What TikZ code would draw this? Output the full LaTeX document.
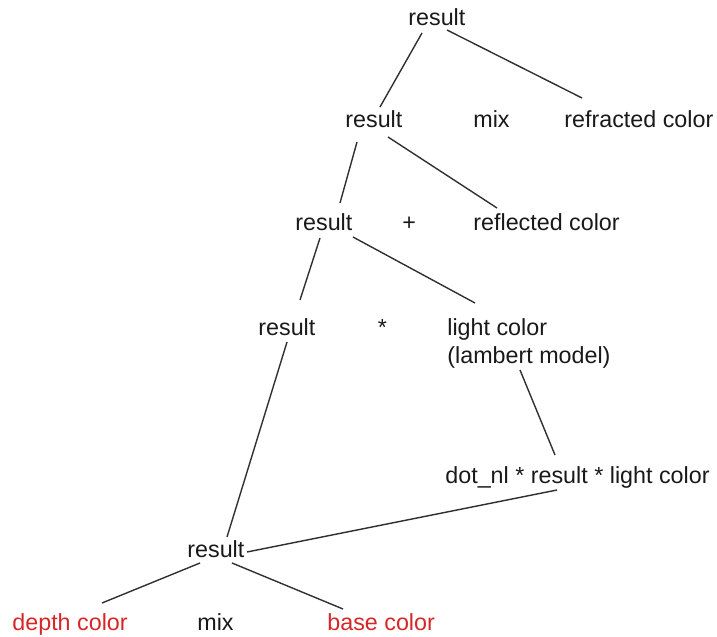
\documentclass[tikz,border=0pt]{standalone}
\usepackage{fontspec}
\setmainfont{Liberation Sans}
\definecolor{inkred}{RGB}{214,38,40}
\definecolor{ink}{RGB}{25,25,25}
\begin{document}
\begin{tikzpicture}[x=0.5bp,y=-0.5bp,
  lbl/.style={inner sep=0pt, anchor=base west, text=ink,
    font=\fontsize{11.65bp}{14bp}\selectfont},
  redlbl/.style={lbl, text=inkred},
  edge/.style={draw=ink!90, line width=0.7bp}]
\useasboundingbox (0,0) rectangle (717,637);

% tree labels, placed by baseline
\node[lbl] (top)   at (408,26)  {result};
\node[lbl] (r2)    at (345,128) {result};
\node[lbl] (mixa)  at (473,128) {mix};
\node[lbl] (refr)  at (564,128) {refracted color};
\node[lbl] (r3)    at (295,230) {result};
\node[lbl] (plus)  at (402,230) {+};
\node[lbl] (refl)  at (473,230) {reflected color};
\node[lbl] (r4)    at (258,335) {result};
\node[lbl] (star)  at (377.5,335) {*};
\node[lbl] (light) at (447,335)
  {\begin{tabular}[t]{@{}l@{}}light color\\(lambert model)\end{tabular}};
\node[lbl] (dot)   at (445,483) {dot\_nl * result * light color};
\node[lbl] (bot)   at (187,557) {result};
\node[redlbl] (depth) at (12,630)  {depth color};
\node[lbl]    (mixb)  at (197,630) {mix};
\node[redlbl] (base)  at (327,630) {base color};

% branches
\draw[edge] ([shift={(14,7)}]top.base west)  -- ([shift={(35,-21)}]r2.base west);
\draw[edge] ([shift={(39,4)}]top.base west)  -- ([shift={(18,-30)}]refr.base west);
\draw[edge] ([shift={(12,14)}]r2.base west)  -- ([shift={(45,-27)}]r3.base west);
\draw[edge] ([shift={(43,9)}]r2.base west)   -- ([shift={(24,-22)}]refl.base west);
\draw[edge] ([shift={(25,8)}]r3.base west)   -- ([shift={(42,-35)}]r4.base west);
\draw[edge] ([shift={(58,7)}]r3.base west)   -- ([shift={(28,-32)}]light.base west);
\draw[edge] ([shift={(29,7)}]r4.base west)   -- ([shift={(40,-20)}]bot.base west);
\draw[edge] ([shift={(73,35)}]light.base west) -- ([shift={(110,-28)}]dot.base west);
\draw[edge] ([shift={(112,7)}]dot.base west) -- ([shift={(60,-5)}]bot.base west);
\draw[edge] ([shift={(13,6)}]bot.base west)  -- ([shift={(90,-27)}]depth.base west);
\draw[edge] ([shift={(45,6)}]bot.base west)  -- ([shift={(16,-21)}]base.base west);
\end{tikzpicture}
\end{document}
